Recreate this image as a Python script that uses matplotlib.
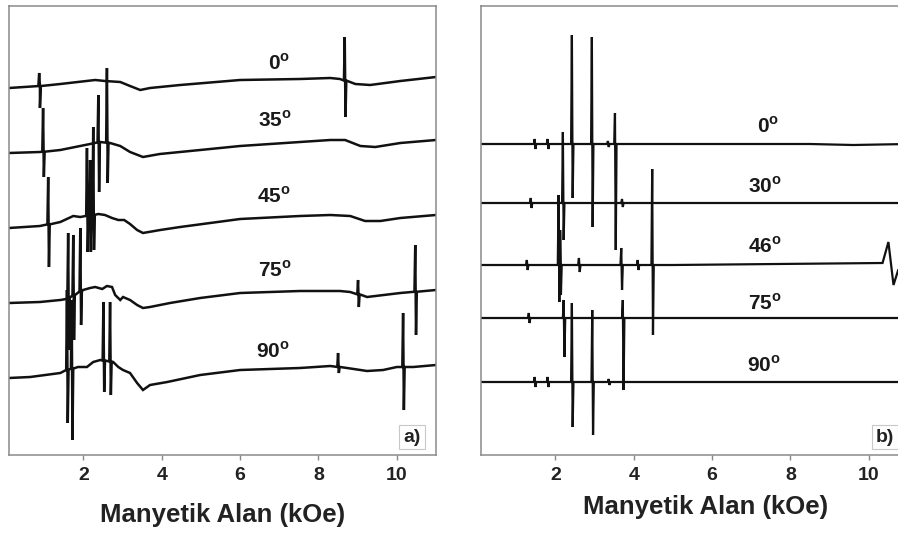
import numpy as np
import matplotlib
matplotlib.use('Agg')
import matplotlib.pyplot as plt

plt.rcParams['font.family'] = ['Liberation Sans', 'DejaVu Sans']
plt.rcParams['font.weight'] = 'bold'
plt.rcParams['mathtext.fontset'] = 'custom'
plt.rcParams['mathtext.rm'] = 'Liberation Sans:bold'
plt.rcParams['mathtext.bf'] = 'Liberation Sans:bold'

# ---- panel a) : field (kOe), stacked intensity (a.u.) ----
a_0_field = [0.10, 0.89, 1.41, 2.30, 2.55, 2.94, 3.19, 3.45, 3.70, 4.47, 6.00, 7.53, 8.30, 8.55, 8.94, 9.32, 10.09, 11.0]
a_0_int = [367, 369, 371, 375, 374, 373, 369, 365, 367, 370, 375, 376, 377, 376, 371, 370, 374, 378]
a_0_lines = [(0.87, 382, 347), (8.67, 418, 338)]

a_35_field = [0.10, 0.89, 1.41, 1.79, 2.17, 2.43, 2.68, 2.94, 3.19, 3.52, 3.95, 4.98, 6.00, 7.53, 8.30, 8.68, 9.07, 9.45, 10.09, 11.0]
a_35_int = [302, 303, 305, 308, 311, 313, 312, 309, 303, 298, 301, 305, 309, 313, 315, 315, 309, 308, 312, 315]
a_35_lines = [(0.97, 347, 278), (2.38, 360, 263), (2.60, 387, 272)]

a_45_field = [0.10, 0.89, 1.41, 1.74, 1.92, 2.38, 2.55, 2.73, 2.89, 3.04, 3.19, 3.37, 3.52, 3.96, 4.47, 6.00, 7.53, 8.30, 8.81, 9.19, 9.58, 10.09, 11.0]
a_45_int = [227, 229, 233, 239, 238, 241, 240, 237, 235, 235, 231, 225, 222, 225, 228, 236, 239, 240, 239, 234, 234, 237, 240]
a_45_lines = [(1.10, 278, 188), (2.09, 307, 203), (2.17, 295, 203), (2.25, 328, 205)]

a_75_field = [0.10, 0.89, 1.41, 1.56, 1.99, 2.17, 2.30, 2.48, 2.60, 2.73, 2.81, 2.94, 3.01, 3.19, 3.37, 3.52, 3.70, 4.21, 4.98, 6.00, 7.53, 8.55, 8.81, 9.24, 10.09, 11.0]
a_75_int = [152, 153, 155, 156, 165, 167, 168, 166, 169, 168, 160, 155, 158, 155, 150, 147, 148, 152, 157, 162, 164, 164, 163, 158, 162, 165]
a_75_lines = [(1.61, 222, 105), (1.74, 220, 115), (1.92, 227, 130), (9.01, 175, 148), (10.47, 210, 120)]

a_90_field = [0.10, 0.64, 1.41, 1.56, 1.86, 2.09, 2.25, 2.43, 2.76, 2.89, 3.01, 3.19, 3.37, 3.52, 3.70, 4.14, 4.98, 6.00, 7.53, 8.30, 8.73, 9.24, 9.65, 10.0, 10.42, 11.0]
a_90_int = [77, 78, 82, 85, 88, 88, 93, 95, 93, 88, 85, 82, 72, 65, 70, 73, 80, 85, 87, 89, 87, 84, 85, 88, 88, 90]
a_90_lines = [(1.58, 165, 32), (1.70, 155, 15), (2.51, 153, 63), (2.68, 153, 60), (8.50, 102, 82), (10.16, 142, 45)]

# ---- panel b) ----
b_0_field = [0.10, 5.0, 8.5, 9.6, 11.0]
b_0_int = [311, 311, 311, 310, 311]
b_0_lines = [(1.47, 316, 306), (1.80, 316, 306), (2.42, 420, 257), (2.93, 418, 228), (3.34, 314, 308), (3.52, 342, 205)]

b_30_field = [0.10, 5.0, 11.0]
b_30_int = [252, 252, 252]
b_30_lines = [(1.37, 257, 247), (2.19, 323, 215), (3.70, 256, 248)]

b_46_field = [0.10, 5.0, 10.35, 10.50, 10.63, 10.75, 11.0]
b_46_int = [190, 190, 192, 213, 170, 185, 190]
b_46_lines = [(1.27, 195, 185), (2.08, 260, 153), (2.12, 225, 160), (2.60, 197, 183), (3.68, 207, 165), (4.10, 195, 185), (4.47, 286, 120)]

b_75_field = [0.10, 5.0, 11.0]
b_75_int = [137, 137, 137]
b_75_lines = [(1.32, 142, 132), (2.21, 155, 98), (3.72, 155, 65)]

b_90_field = [0.10, 5.0, 11.0]
b_90_int = [73, 73, 73]
b_90_lines = [(1.47, 78, 68), (1.80, 78, 68), (2.42, 152, 28), (2.94, 145, 20), (3.36, 76, 70)]

a_labels = ['0', '35', '45', '75', '90']
b_labels = ['0', '30', '46', '75', '90']


def build(field, inten, lines, w=0.02):
    """baseline points plus narrow derivative-type lines (field, max, min)"""
    x = list(field)
    y = list(inten)
    for f, top, bot in lines:
        lvl = np.interp(f, field, inten)
        x += [f - w, f, f + w, f + 2 * w]
        y += [lvl, top, bot, lvl]
    x = np.array(x)
    y = np.array(y)
    idx = np.argsort(x, kind='stable')
    return x[idx], y[idx]


fig = plt.figure(figsize=(8.98, 5.34), dpi=100)
ax1 = fig.add_axes([9 / 898, 79 / 534, 427 / 898, 449 / 534])
ax2 = fig.add_axes([481 / 898, 79 / 534, 427 / 898, 449 / 534])

a_traces = [(a_0_field, a_0_int, a_0_lines), (a_35_field, a_35_int, a_35_lines),
            (a_45_field, a_45_int, a_45_lines), (a_75_field, a_75_int, a_75_lines),
            (a_90_field, a_90_int, a_90_lines)]
b_traces = [(b_0_field, b_0_int, b_0_lines), (b_30_field, b_30_int, b_30_lines),
            (b_46_field, b_46_int, b_46_lines), (b_75_field, b_75_int, b_75_lines),
            (b_90_field, b_90_int, b_90_lines)]

for f, v, l in a_traces:
    x, y = build(f, v, l)
    ax1.plot(x, y, color='#111111', lw=1.8, solid_joinstyle='miter')
for f, v, l in b_traces:
    x, y = build(f, v, l)
    ax2.plot(x, y, color='#111111', lw=1.6, solid_joinstyle='miter')

# angle labels
a_lab_pos = [(7.00, 385), (6.89, 328), (6.87, 252), (6.89, 178), (6.84, 97)]
b_lab_pos = [(7.43, 322), (7.35, 262), (7.35, 202), (7.35, 145), (7.33, 83)]
for lab, (px, py) in zip(a_labels, a_lab_pos):
    ax1.text(px, py, lab + r'$^{\mathrm{o}}$', ha='center', va='baseline',
             fontsize=15, fontweight='bold', color='#1a1a1a')
for lab, (px, py) in zip(b_labels, b_lab_pos):
    ax2.text(px, py, lab + r'$^{\mathrm{o}}$', ha='center', va='baseline',
             fontsize=15, fontweight='bold', color='#1a1a1a')

for ax in (ax1, ax2):
    ax.set_xlim(0.1, 11.0)
    ax.set_ylim(0, 449)
    ax.set_yticks([])
    ax.set_xticks([2, 4, 6, 8, 10])
    ax.tick_params(axis='x', direction='out', length=3.5, width=1, color='#888888',
                   labelsize=14, labelcolor='#222222', pad=5)
    for lbl in ax.get_xticklabels():
        lbl.set_fontweight('bold')
    for sp in ax.spines.values():
        sp.set_color('#8a8a8a')
        sp.set_linewidth(1.1)
    ax.set_xlabel('Manyetik Alan (kOe)', fontsize=18.5, fontweight='bold', color='#222222')
    ax.xaxis.label.set_va('center')

ax1.xaxis.set_label_coords(0.5, -0.134)
ax2.xaxis.set_label_coords(0.527, -0.116)

# panel tags, placed in pixel coordinates
ax1.text(412, 97, 'a)', transform=None, fontsize=14, fontweight='bold', color='#222222',
         ha='center', va='center',
         bbox=dict(boxstyle='square,pad=0.2', fc='white', ec='#c8c8c8', lw=0.8))
ax2.text(885, 97, 'b)', transform=None, fontsize=14, fontweight='bold', color='#222222',
         ha='center', va='center',
         bbox=dict(boxstyle='square,pad=0.2', fc='white', ec='#c8c8c8', lw=0.8))

fig.savefig('out.png', dpi=100)
